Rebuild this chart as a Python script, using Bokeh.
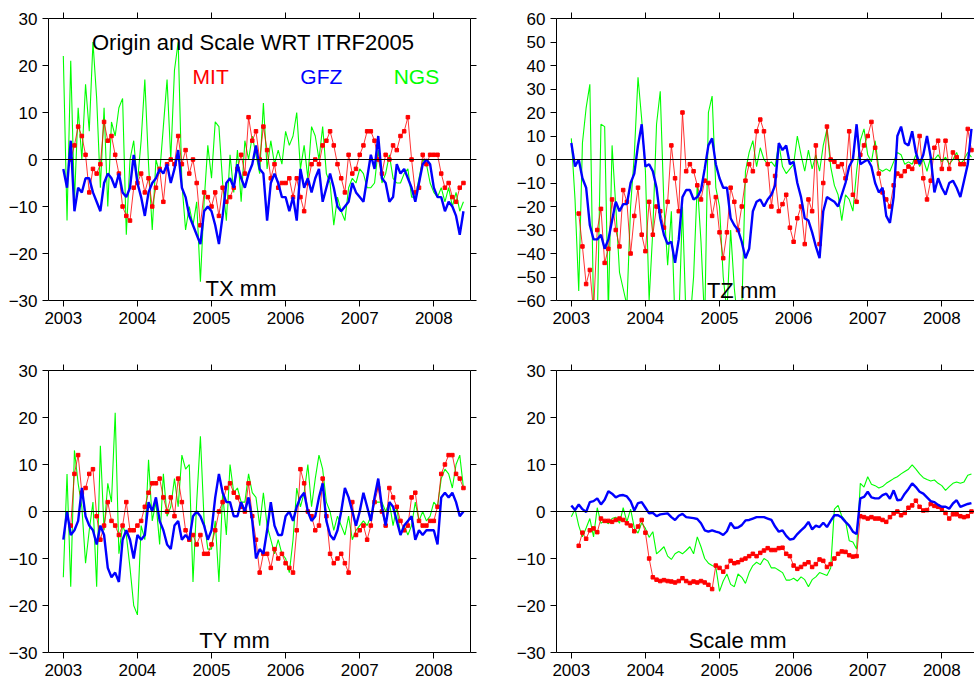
import numpy as np
from bokeh.plotting import figure
from bokeh.layouts import row, column
from bokeh.models import Range1d, FixedTicker, LinearAxis, Span, Label, CustomJSTickFormatter
from bokeh.embed import file_html
from bokeh.resources import INLINE

EPOCHS = [round(2003.0 + 0.05 * i, 3) for i in range(109)]
YEAR_TICKS = [2003, 2004, 2005, 2006, 2007, 2008]
TICKS_30 = [-30, -20, -10, 0, 10, 20, 30]
TICKS_60 = [-60, -50, -40, -30, -20, -10, 0, 10, 20, 30, 40, 50, 60]

SERIES_NAMES = ["MIT", "GFZ", "NGS"]
PANEL_LABELS = ["TX mm", "TZ mm", "TY mm", "Scale mm"]
TITLE = "Origin and Scale WRT ITRF2005"

TX_GFZ = [-2, -6, 4, -11, -6, -7, -4, -4, -7, -9, -11, -5, -3, -4, -6, -3, -7, -8, -6, 1,
          -5, -8, -12, -7, -5, -4, -2, -3, -1, -5, -2, 2, -6, -8, -12, -14, -16, -18, -11, -10,
          -11, -14, -18, -12, -5, -4, -6, -1, -4, -6, -3, -1, 3, -2, -3, -13, -5, -3, -5, -8,
          -8, -11, -8, -13, -2, -6, -4, -7, -4, -2, -9, -6, -3, -6, -10, -11, -10, -9, -5, -7,
          -8, -9, -4, 1, -2, 5, -4, -5, -9, -8, -1, -3, -2, -4, -6, -9, -5, -1, 0, -1,
          -6, -8, -8, -11, -9, -10, -12, -16, -11]
TX_MIT = [None, None, 0, 3, 7, 5, 1, -7, -2, -3, -1, 8, 4, 5, 1, -3, -10, -12, -13, -6,
          -5, -3, -7, -4, -10, -6, -2, -9, -1, 0, -1, 5, -1, 2, -3, 0, -5, -14, -7, -8,
          -10, -7, -12, -6, -9, -8, -6, -2, 1, -3, 9, 4, 6, 0, 7, 2, -4, -1, -6, -5,
          -5, -4, -8, -4, -8, -11, -5, -1, 0, -1, 3, 4, 6, 3, -1, -4, -7, 1, -3, -2,
          1, 3, 6, 6, 4, 0, -3, 1, 0, 3, 2, 5, 6, 9, 0, -7, -6, 1, -1, 1,
          1, 1, -3, -6, -5, -8, -9, -6, -5]
TX_NGS = [22, -13, 21, -9, 11, 0, 16, 6, 25, 13, -6, 11, -10, 8, 5, 11, 13, -16, 0, 4,
          -5, 4, 17, -1, -15, 0, -3, 7, 17, 0, 19, 25, -5, -15, -10, -14, -9, -26, -9, 3,
          -4, 8, 7, -5, -13, 1, -7, 2, -9, 4, 0, 5, 1, -3, 12, -2, 4, -1, 2, -1,
          6, 3, 5, 10, -2, 3, -4, 7, 5, 0, 7, -3, -5, -14, -8, -11, -13, -6, -4, -5,
          -2, -3, -6, -6, -5, 2, -5, -3, 1, -4, -5, -5, -3, -2, -8, -8, -4, 0, -1, -5,
          -7, -8, -6, -9, -6, -10, -7, -11, -9]

TZ_GFZ = [7, -3, 0, -8, -12, -28, -34, -34, -32, -38, -34, -26, -18, -22, -19, -19, -10, -6, 6, 15,
          -3, -2, -5, -12, -25, -32, -36, -35, -44, -34, -16, -13, -13, -17, -16, -13, -4, 6, 9, -2,
          -8, -12, -12, -25, -28, -30, -35, -42, -38, -22, -18, -17, -20, -17, -15, -11, 7, 4, 6, -2,
          -1, -10, -16, -25, -26, -31, -37, -42, -22, -16, -17, -18, -20, -15, -10, -3, 0, 15, -2, -1,
          0, -3, -10, -14, -12, -24, -27, -16, 10, 14, 7, 6, 12, 3, -2, 2, 10, 1, -14, -8,
          -12, -15, -10, -9, -12, -16, -9, -2, 13]
TZ_MIT = [None, None, -23, -37, -53, -47, -65, -30, -21, -44, -38, -17, -30, -37, -13, -18, -40, -24, -12, -32,
          -39, -18, -32, -20, -22, -29, -18, 6, -8, -22, 20, -5, -2, -5, -11, -17, -9, -10, -24, -16,
          -31, -42, -31, -12, -18, -30, -20, -9, -2, -5, 12, 17, 12, -2, -20, -7, -22, -19, -15, -29,
          -35, -25, -20, -36, -17, -22, 6, -36, -10, 14, 0, -1, -3, -2, -8, 12, -15, -18, 2, 6,
          10, 16, 5, -6, -14, -17, -20, -11, -6, -7, -5, -3, -4, -1, 10, -8, -17, -9, 5, 8,
          -4, 8, -4, 3, 1, -2, -2, 13, 4]
TZ_NGS = [9, -17, -56, 7, 22, 32, -65, -70, 15, 14, -65, 6, -20, -48, -55, -62, -20, 2, 35, 17,
          -5, -60, -30, 15, 29, -20, -45, -22, -70, -70, -20, -70, -70, -50, -10, -35, -70, 20, 27, -12,
          -20, -50, -65, -30, -55, -70, -65, -5, 3, 8, -3, 5, 0, -2, -1, -3, 7, -3, -6, -4,
          -2, 10, 2, -5, 4, -4, 2, -5, 6, 13, -3, -11, -15, -26, -15, -17, -22, -5, 8, 13,
          2, -1, 8, -4, -5, -4, -5, -1, 3, 2, -2, -1, -2, 2, -3, 0, -5, 1, 0, 2,
          -1, 1, -2, 0, 3, -2, 0, 3, 1]

TY_GFZ = [-6, 0, -5, -4, -2, 5, -1, -3, -4, -7, -3, -5, -12, -14, -13, -15, -6, -4, -6, -10,
          -5, -6, -5, 2, 0, 3, -2, -4, -7, -8, -3, -2, -6, -5, -6, -1, 0, -1, -3, -6,
          -4, 3, 8, 4, 2, 2, -1, -1, 2, 0, 3, -2, -10, -8, -9, -4, 2, -3, -5, -5,
          -1, 0, -2, 1, 3, 4, 0, -2, -1, 3, 6, -2, -5, -6, -4, 0, 5, 3, 0, -3,
          0, 4, 1, -2, 3, 7, 1, -3, 2, 1, -2, -5, -3, -2, -1, -6, -4, -5, -4, -4,
          -4, -7, 3, 4, 3, 4, 2, -1, 0]
TY_MIT = [None, None, -3, 8, 12, 4, 5, 8, 9, -1, -6, -3, 2, -2, -3, -5, -3, 2, -4, -4,
          -3, -2, 1, 4, 6, 6, 7, 3, 0, 3, -1, 7, 2, -4, -6, -5, -7, -5, -9, -9,
          -7, -4, 0, 2, 5, 6, 4, 3, 1, 0, 6, -1, -6, -13, -9, -9, -12, -8, -10, -9,
          -11, -12, -13, -4, 9, 6, 0, -1, -4, -3, 7, -1, -9, -11, -10, -9, -11, -13, 2, -5,
          -4, -3, -6, -3, 2, 5, 0, -3, 5, 3, 1, -2, -4, -3, 3, 4, -2, -3, -3, -2,
          -2, 1, 8, 10, 12, 12, 8, 7, 5]
TY_NGS = [-14, 8, -16, 13, 6, 1, -11, -4, 2, -16, 14, -4, 6, 2, 21, -9, -3, -5, -12, -20,
          -22, -3, -6, 11, -2, 2, -7, 8, -1, 1, 7, 1, 12, 9, 10, -15, 2, 16, -2, -8,
          -8, -2, -15, 4, -5, 10, 4, 5, 2, 2, 8, 4, 3, -3, 4, -3, -6, -9, -6, -9,
          -10, -13, -6, 5, 1, 4, 10, 1, 7, 12, 9, 2, 0, -4, -1, -3, -5, -1, -6, -4,
          -3, -2, -3, -1, 2, 2, 2, 0, 2, -3, 1, -5, -3, -5, -3, 2, -2, 0, -2, -1,
          2, 1, 7, 9, 8, 5, 10, 12, 5]

SC_GFZ = [1.3, 0.3, 1.5, 0.5, -0.1, 2.0, 2.2, 2.8, 1.5, 2.5, 4.3, 3.8, 3.0, 3.4, 3.5, 3.2, 2.2, 0.2, 1.8, 2.0,
          0.8, -0.4, -0.3, -1.0, -0.6, -0.5, -0.4, -1.2, -1.8, -0.9, -0.5, -1.2, -1.3, -1.4, -1.6, -2.5, -4.0, -4.3, -4.0, -4.3,
          -4.5, -5.0, -4.2, -2.4, -3.5, -3.4, -2.9, -1.9, -1.8, -1.5, -1.2, -1.2, -1.2, -1.5, -1.8, -3.2, -4.3, -4.0, -5.2, -6.0,
          -5.8, -4.8, -4.0, -3.3, -2.2, -3.8, -3.0, -3.3, -2.4, -3.3, -2.0, -0.8, -0.8, -1.3, -2.2, -3.0, -4.3, -4.8, 2.8, 3.1,
          4.2, 3.0, 2.8, 2.8, 3.5, 3.8, 2.7, 4.5, 2.4, 2.5, 3.8, 4.8, 6.0, 5.2, 4.2, 3.8, 3.0, 2.2, 2.0, 1.4,
          1.0, 1.0, 0.6, 1.7, 2.4, 1.0, 1.3, 1.6, 1.8]
SC_MIT = [None, None, -7.3, -4.5, -5.8, -4.0, -3.6, -4.4, -1.5, -2.0, -2.0, -2.2, -1.8, -1.5, -1.8, -2.5, -3.0, -4.2, -3.2, -1.8,
          -4.5, -10.0, -14.0, -14.5, -14.8, -14.6, -14.8, -14.9, -15.1, -14.8, -14.2, -14.8, -15.2, -14.9, -15.1, -14.8, -15.1, -15.6, -16.5, -11.5,
          -12.0, -12.8, -11.8, -10.5, -11.0, -10.8, -10.3, -10.0, -9.5, -9.0, -9.5, -8.8, -8.3, -7.8, -8.2, -8.2, -7.8, -7.7, -9.0, -9.5,
          -11.5, -12.2, -11.8, -11.2, -10.8, -11.8, -11.2, -10.2, -10.5, -11.8, -11.2, -10.0, -9.0, -8.5, -8.6, -9.3, -9.6, -9.5, -1.0, -1.2,
          -1.5, -1.2, -1.5, -1.5, -1.8, -2.2, -1.2, -0.4, 0.0, -0.8, -0.3, 0.8, 1.3, 2.3, 1.0, 0.2, 0.3, 1.6, 1.2, 1.0,
          0.6, -0.3, -1.5, -0.6, -0.6, -1.0, -1.2, -1.0, 0.0]
SC_NGS = [-1.1, 0.5, -3.0, -5.4, -3.5, -1.5, -5.4, 0.8, -2.5, -2.0, -2.6, -1.5, -1.2, -2.5, 0.8, -2.2, 0.5, -3.5, -4.6, -2.4,
          -3.6, -5.5, -4.3, -9.0, -8.3, -7.5, -9.5, -10.2, -9.0, -8.5, -9.0, -8.3, -7.5, -9.0, -5.4, -7.5, -10.0, -11.0, -11.5, -11.8,
          -17.0, -14.8, -13.3, -15.5, -16.0, -13.3, -14.0, -15.3, -13.0, -11.5, -10.8, -11.3, -10.0, -10.5, -12.0, -12.0, -12.5, -13.0, -14.6, -14.6,
          -14.2, -14.8, -13.9, -14.5, -16.0, -14.5, -13.9, -13.0, -13.3, -13.6, -12.0, 0.5, 1.3, -1.0, -2.0, -6.2, -6.5, -8.0, 6.0, 5.2,
          7.4, 5.8, 5.5, 5.0, 5.3, 6.0, 6.5, 7.0, 7.4, 8.0, 8.5, 9.0, 9.9, 9.0, 8.0, 7.2, 6.8, 6.5, 6.7, 6.0,
          5.5, 4.5, 5.3, 6.0, 6.3, 6.0, 6.3, 7.7, 8.0]

# ---------------- styling ----------------
FONT = "Liberation Sans"
RED, BLUE, GREEN = "#ff0000", "#0000ff", "#00ff00"


def style_axis(ax, ticks, labels):
    ax.ticker = FixedTicker(ticks=ticks)
    ax.axis_line_color = "black"
    ax.axis_line_width = 1
    ax.major_tick_line_color = "black"
    ax.major_tick_line_width = 1
    ax.major_tick_in = 0
    ax.major_tick_out = 6
    ax.minor_tick_line_color = None
    if labels:
        ax.major_label_text_font = FONT
        ax.major_label_text_font_size = "17px"
        ax.major_label_text_color = "black"
        ax.major_label_standoff = 5
    else:
        ax.formatter = CustomJSTickFormatter(code="return ''")
        ax.major_label_text_font_size = "0px"
        ax.major_label_standoff = 0


def make_panel(width, height, borders, xr, yr, yticks, right_axis):
    left, right, top, bottom = borders
    p = figure(width=width, height=height, x_range=Range1d(*xr), y_range=Range1d(*yr),
               output_backend="svg", toolbar_location=None, tools="",
               min_border_left=left, min_border_right=right,
               min_border_top=top, min_border_bottom=bottom)
    p.outline_line_color = None
    p.background_fill_color = "white"
    p.border_fill_color = "white"
    p.xgrid.grid_line_color = None
    p.ygrid.grid_line_color = None
    style_axis(p.xaxis[0], YEAR_TICKS, True)
    style_axis(p.yaxis[0], yticks, True)
    top_ax = LinearAxis()
    style_axis(top_ax, YEAR_TICKS, False)
    p.add_layout(top_ax, "above")
    if right_axis:
        r_ax = LinearAxis()
        style_axis(r_ax, yticks, False)
        p.add_layout(r_ax, "right")
    p.add_layout(Span(location=0, dimension="width", line_color="black", line_width=1))
    return p


def draw(p, mit, gfz, ngs):
    x = np.array(EPOCHS, dtype=float)
    p.line(x, np.array(ngs, dtype=float), line_color=GREEN, line_width=1.1)
    m = np.array(mit, dtype=float)
    p.line(x, m, line_color=RED, line_width=1, line_alpha=0.8)
    p.scatter(x, m, marker="square", size=3.5, fill_color=RED, line_color=RED)
    p.line(x, np.array(gfz, dtype=float), line_color=BLUE, line_width=2.4)


def label(p, x, y, text, color="black", size="22px"):
    p.add_layout(Label(x=x, y=y, text=text, text_font=FONT, text_font_size=size,
                       text_color=color, text_align="left", text_baseline="alphabetic"))


XR_LEFT = (2002.80, 2008.495)
XR_RIGHT = (2002.80, 2008.441)

p1 = make_panel(487, 340, (48, 17, 18, 40), XR_LEFT, (-30, 30), TICKS_30, True)
draw(p1, TX_MIT, TX_GFZ, TX_NGS)
label(p1, 2003.387, 24.8, TITLE)
label(p1, 2004.745, 17.7, SERIES_NAMES[0], RED, "21px")
label(p1, 2006.198, 17.7, SERIES_NAMES[1], BLUE, "21px")
label(p1, 2007.458, 17.7, SERIES_NAMES[2], GREEN, "21px")
label(p1, 2004.92, -27.5, PANEL_LABELS[0])

p2 = make_panel(487, 340, (69, 0, 18, 40), XR_RIGHT, (-60, 60), TICKS_60, False)
draw(p2, TZ_MIT, TZ_GFZ, TZ_NGS)
label(p2, 2004.83, -55.9, PANEL_LABELS[1])

p3 = make_panel(487, 345, (48, 17, 30, 33), XR_LEFT, (-30, 30), TICKS_30, True)
draw(p3, TY_MIT, TY_GFZ, TY_NGS)
label(p3, 2004.835, -27.4, PANEL_LABELS[2])

p4 = make_panel(487, 345, (69, 0, 30, 33), XR_RIGHT, (-30, 30), TICKS_30, False)
draw(p4, SC_MIT, SC_GFZ, SC_NGS)
label(p4, 2004.584, -27.4, PANEL_LABELS[3])

layout = column(row(p1, p2), row(p3, p4))
open("out.html", "w").write(file_html(layout, INLINE))
